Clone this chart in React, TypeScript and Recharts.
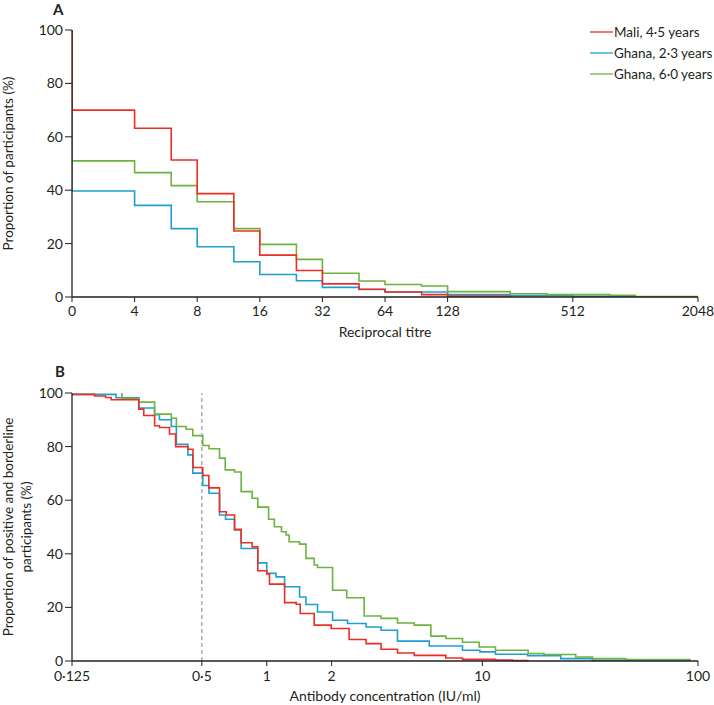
import React from 'react';
import { LineChart, Line, XAxis, YAxis, ReferenceLine, Label, Legend } from 'recharts';

const FONT = 'Lato, "Noto Sans", sans-serif';
const INK = '#231f20';

// Panel A: proportion of participants at or above each reciprocal titre, [titre, %]
const maliTitre = [
  [0, 100], [0, 70], [4, 63.2], [6, 51.3], [8, 38.7], [12, 24.7], [16, 15.7], [24, 9.9],
  [32, 4.9], [48, 2.9], [64, 1.9], [96, 0.9], [128, 0.4], [256, 0.4],
];
const ghana23Titre = [
  [0, 100], [0, 39.7], [4, 34.3], [6, 25.6], [8, 18.8], [12, 13.2], [16, 8.4], [24, 6.1],
  [32, 3.6], [48, 2.8], [64, 1.9], [128, 0.9], [256, 0.5], [512, 0.3], [1024, 0.3],
];
const ghana60Titre = [
  [0, 100], [0, 51], [4, 46.6], [6, 41.7], [8, 35.7], [12, 25.6], [16, 19.7], [24, 14.1],
  [32, 8.9], [48, 6.0], [64, 4.7], [96, 4.1], [128, 2.0], [256, 1.2], [384, 0.9],
  [768, 0.6], [1024, 0.2], [2048, 0.2],
];
const titreTicks = [0, 4, 8, 16, 32, 64, 128, 512, 2048];

// Panel B: positive and borderline participants at or above each concentration, [IU/ml, %]
const maliConc = [
  [0.125, 99.5], [0.159, 98.9], [0.179, 98.3], [0.19, 97.5], [0.255, 94.0], [0.269, 91.6],
  [0.302, 87.8], [0.318, 87.1], [0.354, 84.7], [0.378, 80.0], [0.431, 79.0], [0.455, 72.2],
  [0.505, 69.2], [0.539, 64.6], [0.604, 55.7], [0.649, 54.5], [0.709, 49.1], [0.761, 44.1],
  [0.856, 42.6], [0.909, 33.7], [1.0, 32.5], [1.03, 28.7], [1.21, 21.8], [1.37, 21.2],
  [1.43, 17.7], [1.66, 13.4], [1.99, 12.1], [2.41, 8.0], [2.89, 6.5], [3.39, 4.4],
  [4.04, 3.0], [4.83, 2.1], [6.77, 1.1], [8.09, 0.6], [11.5, 0.4], [13.8, 0.2], [16.4, 0.2],
];
const ghana23Conc = [
  [0.125, 99.5], [0.2, 98.2], [0.255, 94.4], [0.302, 91.9], [0.318, 90.0], [0.361, 87.5],
  [0.381, 80.9], [0.431, 76.9], [0.454, 70.1], [0.505, 65.5], [0.54, 62.6], [0.604, 54.5],
  [0.644, 52.9], [0.709, 48.9], [0.761, 42.0], [0.909, 36.6], [1.0, 32.7], [1.105, 31.4],
  [1.21, 27.7], [1.42, 23.9], [1.52, 21.1], [1.72, 18.3], [2.02, 15.2], [2.37, 14.0],
  [2.89, 12.7], [3.39, 11.5], [4.04, 7.4], [5.67, 5.6], [8.09, 4.0], [9.74, 3.4],
  [11.5, 2.5], [16.2, 2.0], [23.1, 0.9], [32.4, 0.3], [92.4, 0.3],
];
const ghana60Conc = [
  [0.213, 100], [0.213, 97.9], [0.256, 96.6], [0.302, 92.1], [0.361, 90.6], [0.381, 87.5],
  [0.423, 86.5], [0.454, 84.1], [0.505, 80.4], [0.54, 79.2], [0.604, 75.7], [0.642, 71.3],
  [0.709, 70.5], [0.761, 63.2], [0.856, 60.7], [0.909, 57.4], [1.02, 52.9], [1.085, 50.1],
  [1.17, 48.2], [1.23, 47.0], [1.27, 44.5], [1.42, 43.6], [1.52, 38.3], [1.66, 35.8],
  [1.72, 34.9], [2.02, 26.4], [2.35, 23.6], [2.83, 16.8], [3.39, 15.9], [4.04, 14.2],
  [4.83, 13.4], [5.77, 9.3], [6.77, 8.4], [8.09, 7.0], [9.66, 5.2], [11.5, 4.0],
  [16.3, 2.8], [19.3, 2.4], [27.1, 1.5], [32.4, 0.9], [46.2, 0.5], [92.4, 0.5],
];
const concTicks = [0.125, 0.5, 1, 2, 10, 100];
const concCutoff = 0.5;

const pctTicks = [0, 20, 40, 60, 80, 100];

// drawn in this order so red ends up on top
const series = [
  { name: 'Ghana, 2·3 years', color: '#1f9fcf', titre: ghana23Titre, conc: ghana23Conc },
  { name: 'Ghana, 6·0 years', color: '#6cb33f', titre: ghana60Titre, conc: ghana60Conc },
  { name: 'Mali, 4·5 years', color: '#ee2e24', titre: maliTitre, conc: maliConc },
];
const legendOrder = ['Mali, 4·5 years', 'Ghana, 2·3 years', 'Ghana, 6·0 years'];

// titre 0 sits one doubling below 4, the rest on a log2 scale
const titrePos = (t: number) => (t === 0 ? 1 : Math.log2(t));
const decimal = (v: number) => String(Number(v.toPrecision(6))).replace('.', '·');

const tickStyle = { fill: INK, fontSize: 14, fontFamily: FONT };
const labelStyle = { fill: INK, fontSize: 14, fontFamily: FONT, textAnchor: 'middle' as const };
const yLabelStyle = { ...labelStyle, fontSize: 13.5 };
const axisLine = { stroke: INK, strokeWidth: 1.3 };
const panelTag = { position: 'absolute' as const, fontFamily: FONT, fontWeight: 700, fontSize: 15, lineHeight: '15px', color: INK };

function LegendBox() {
  return (
    <div style={{ fontFamily: FONT, fontSize: 13.5, color: INK }}>
      {legendOrder.map((name) => {
        const s = series.find((x) => x.name === name)!;
        return (
          <div key={name} style={{ display: 'flex', alignItems: 'center', height: 21 }}>
            <svg width={23} height={4} style={{ marginRight: 1 }}>
              <line x1={0} y1={2} x2={23} y2={2} stroke={s.color} strokeWidth={1.3} />
            </svg>
            <span>{name}</span>
          </div>
        );
      })}
    </div>
  );
}

export default function App() {
  return (
    <div style={{ position: 'absolute', left: 0, top: 0, width: 714, height: 705, background: '#fff' }}>
      <div style={{ ...panelTag, left: 53, top: 1.5 }}>A</div>
      <div style={{ ...panelTag, left: 55, top: 364 }}>B</div>

      <div style={{ position: 'absolute', left: 0, top: 0 }}>
        <LineChart width={714} height={345} margin={{ top: 30, right: 16, bottom: 0, left: 0 }}>
          <XAxis
            dataKey="x"
            type="number"
            domain={[1, 11]}
            ticks={titreTicks.map(titrePos)}
            tickFormatter={(p: number) => (p === 1 ? '0' : String(Math.round(2 ** p)))}
            height={48}
            tick={tickStyle}
            axisLine={axisLine}
            tickLine={{ stroke: INK }}
            tickSize={5}
            tickMargin={4}
            allowDataOverflow
          >
            <Label value="Reciprocal titre" position="insideBottom" offset={8} style={labelStyle} />
          </XAxis>
          <YAxis
            type="number"
            domain={[0, 100]}
            ticks={pctTicks}
            width={72}
            tick={tickStyle}
            axisLine={axisLine}
            tickLine={{ stroke: INK }}
            tickSize={7}
            tickMargin={2}
          >
            <Label value="Proportion of participants (%)" angle={-90} position="insideLeft" offset={8} style={yLabelStyle} />
          </YAxis>
          {series.map((s) => (
            <Line
              key={s.name}
              name={s.name}
              data={s.titre.map(([t, v]) => ({ x: titrePos(t), y: v }))}
              dataKey="y"
              type="stepAfter"
              stroke={s.color}
              strokeWidth={1.6}
              dot={false}
              activeDot={false}
              isAnimationActive={false}
            />
          ))}
          <Legend
            layout="vertical"
            align="center"
            verticalAlign="middle"
            content={() => <LegendBox />}
            wrapperStyle={{ left: 590, top: 21, width: 124 }}
          />
        </LineChart>
      </div>

      <div style={{ position: 'absolute', left: 0, top: 345 }}>
        <LineChart width={714} height={360} margin={{ top: 48, right: 16, bottom: 0, left: 0 }}>
          <XAxis
            dataKey="x"
            type="number"
            domain={[Math.log2(0.125), Math.log2(100)]}
            ticks={concTicks.map(Math.log2)}
            tickFormatter={(p: number) => decimal(2 ** p)}
            height={44}
            tick={tickStyle}
            axisLine={axisLine}
            tickLine={{ stroke: INK }}
            tickSize={5}
            tickMargin={5}
            allowDataOverflow
          >
            <Label value="Antibody concentration (IU/ml)" position="insideBottom" offset={4} style={labelStyle} />
          </XAxis>
          <YAxis
            type="number"
            domain={[0, 100]}
            ticks={pctTicks}
            width={72}
            tick={tickStyle}
            axisLine={axisLine}
            tickLine={{ stroke: INK }}
            tickSize={7}
            tickMargin={2}
          >
            <Label value="Proportion of positive and borderline" angle={-90} position="insideLeft" offset={8} style={yLabelStyle} />
            <Label value="participants (%)" angle={-90} position="insideLeft" offset={26} style={yLabelStyle} />
          </YAxis>
          <ReferenceLine x={Math.log2(concCutoff)} stroke="#a9afb6" strokeWidth={1.5} strokeDasharray="4 3" />
          {series.map((s) => (
            <Line
              key={s.name}
              name={s.name}
              data={s.conc.map(([c, v]) => ({ x: Math.log2(c), y: v }))}
              dataKey="y"
              type="stepAfter"
              stroke={s.color}
              strokeWidth={1.6}
              dot={false}
              activeDot={false}
              isAnimationActive={false}
            />
          ))}
        </LineChart>
      </div>
    </div>
  );
}
